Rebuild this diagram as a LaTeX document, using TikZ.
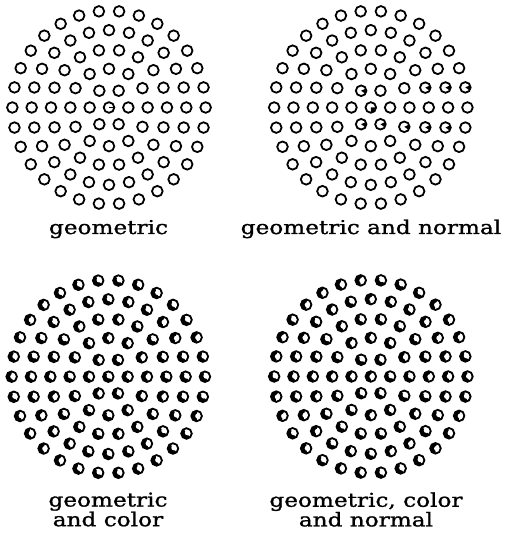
\documentclass[tikz,border=0pt]{standalone}
\usepackage{fontspec}
\usetikzlibrary{calc}
\setmainfont{DejaVu Serif}[FakeStretch=1.22,FakeBold=1.2]
\begin{document}
\begin{tikzpicture}[x=1pt,y=1pt,
  ringline/.style={line width=1.8pt},
  lbl/.style={inner sep=0pt,font=\fontsize{19}{17}\selectfont}]
\useasboundingbox (0,0) rectangle (507,545);
\fill[white] (0,0) rectangle (507,545);
% glyph macros
\newcommand\plaindot[2]{\draw[ringline] (#1,#2) circle (5.3pt);}
\newcommand\pacdot[3]{%
  \fill (#1,#2) circle (5.4pt);
  \fill[white] (#1,#2) -- ++({#3-80}:4.5pt) arc[start angle={#3-80}, end angle={#3+80}, radius=4.5pt] -- cycle;
  \fill[white] ($(#1,#2)+({#3}:1.2pt)$) circle (2.6pt);
  \draw[ringline] (#1,#2) circle (5.3pt);}
\newcommand\markdot[4]{%
  \fill (#1,#2) -- ++({#3-#4}:4.7pt) arc[start angle={#3-#4}, end angle={#3+#4}, radius=4.7pt] -- cycle;}
% panel of plain circles: #1,#2 centre
\newcommand\plainpanel[2]{%
  \plaindot{#1}{#2}
  \foreach \k in {1,...,5}{
    \pgfmathtruncatemacro\n{6*\k}
    \foreach \j in {1,...,\n}{
      \pgfmathsetmacro\ang{360/\n*(\j-1)}
      \pgfmathsetmacro\px{#1+19.33*\k*cos(\ang)}
      \pgfmathsetmacro\py{#2+19.33*\k*sin(\ang)}
      \plaindot{\px}{\py}
    }
  }}
% panel of pac glyphs: #1,#2 centre, #3 seed
\newcommand\pacpanel[3]{%
  \pgfmathsetseed{#3}
  \pgfmathsetmacro\m{20+30*rand}
  \pacdot{#1}{#2}{\m}
  \foreach \k in {1,...,5}{
    \pgfmathtruncatemacro\n{6*\k}
    \foreach \j in {1,...,\n}{
      \pgfmathsetmacro\ang{360/\n*(\j-1)}
      \pgfmathsetmacro\px{#1+19.33*\k*cos(\ang)}
      \pgfmathsetmacro\py{#2+19.33*\k*sin(\ang)}
      \pgfmathsetmacro\m{15+30*rand}
      \pacdot{\px}{\py}{\m}
    }
  }}
% ---- panel 1: geometric
\plainpanel{109}{437.5}
\draw[line width=1.3pt] (109,437.5) -- (114,437.5);
% ---- panel 2: geometric and normal
\plainpanel{370.8}{437.5}
\markdot{370.8}{437.5}{-45}{45}
\foreach \k/\a in {1/120,1/240,1/300,2/330,3/20,3/340,4/15,4/345,5/12}{
  \pgfmathsetmacro\px{370.8+19.33*\k*cos(\a)}
  \pgfmathsetmacro\py{437.5+19.33*\k*sin(\a)}
  \markdot{\px}{\py}{-5}{30}
}
% ---- panel 3: geometric and color
\pacpanel{108.3}{168.3}{11}
% ---- panel 4: geometric, color and normal
\pacpanel{370.8}{168.5}{29}
% ---- labels
\node[lbl,anchor=base] (lab1) at (108.5,311) {geometric};
\node[lbl,anchor=base] (lab2) at (371,311) {geometric and normal};
\node[lbl,align=center] (lab3) at (108,35.5) {geometric\\and color};
\node[lbl,align=center] (lab4) at (366,35.5) {geometric, color\\and normal};
\end{tikzpicture}
\end{document}
